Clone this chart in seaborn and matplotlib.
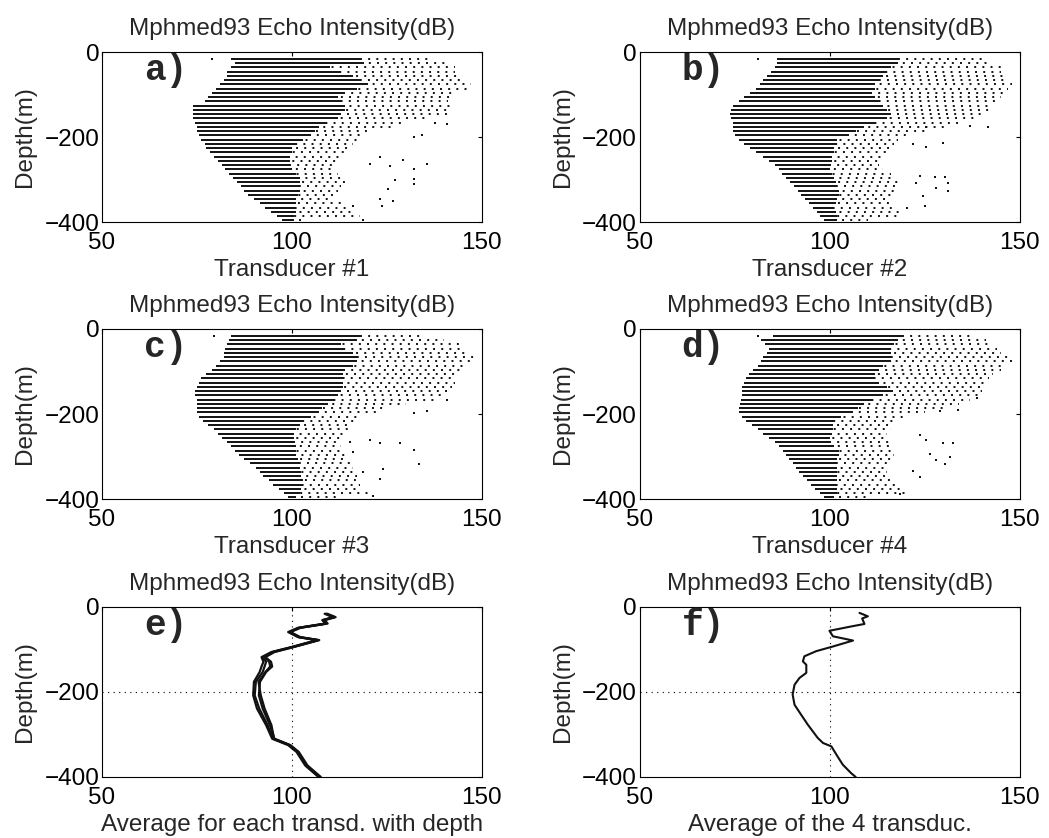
import matplotlib
matplotlib.use("Agg")
import matplotlib.pyplot as plt
import seaborn as sns
import pandas as pd

# depth of each echo bin (m)
row_depth = [-16, -26, -36, -46, -56, -66, -76, -86, -96, -106, -116, -126, -136,
             -146, -156, -166, -176, -186, -196, -206, -216, -226, -236, -246, -256,
             -266, -276, -286, -296, -306, -316, -326, -336, -346, -356, -366, -376,
             -386, -396]

# per bin: start of echoes, end of the dense part, end of the sparse part (dB)
a_left = [84, 85, 84, 83, 83, 82, 81, 80, 79, 78, 77, 74, 74, 74, 74, 74.5, 75, 75, 75.5,
          76, 77, 77.5, 78.5, 79.5, 80.5, 81.5, 82.5, 83.5, 84.5, 85.5, 86.5, 87.5, 88.5,
          90, 91.5, 93, 94.5, 96, 97.5]
a_dense = [118, 119, 110, 113, 116, 118, 120, 117, 114, 112, 113, 114, 114, 113, 112, 109,
           107, 106, 105, 103, 101, 100, 100, 99.5, 99.5, 99.5, 100, 101, 102, 102, 102,
           102, 101.5, 101, 101, 101, 101, 100.5, 100.5]
a_sparse = [137, 141, 143, 143, 144, 145, 147, 146, 143, 142, 141, 142, 142, 141, 135, 130,
            126, 121, 118, 117, 116, 115, 114, 113, 112, 111, 111, 112, 113, 114, 113, 112,
            111, 110, 113, 115, 116, 118, 104]

b_left = [86, 86, 85.5, 84.5, 83.5, 82.5, 81.5, 80.5, 79, 77.5, 76, 74.5, 74, 73.7, 74,
          74.5, 74.6, 74.6, 75, 76, 77.5, 79, 80.5, 82.5, 84, 85.5, 86.5, 87.5, 88.5, 89.5,
          90.5, 91.5, 92.5, 93.5, 94.5, 95.5, 96.5, 97.5, 98.5]
b_dense = [118, 118, 116, 115, 114, 113, 112, 112, 111, 112, 113, 114, 115, 116, 115, 112,
           109, 107, 105, 102, 101.5, 101, 101, 100.5, 100.5, 100, 100, 100.5, 101, 101.5,
           102, 102.5, 102.5, 102, 101.5, 101, 101.5, 102, 102]
b_sparse = [140, 142, 145, 145, 146, 147, 148, 147, 146, 145, 144, 143, 142, 141, 138, 134,
            130, 125, 121, 118, 117, 116, 115, 114, 113, 113, 114, 116, 117, 118, 118, 117,
            116, 116, 117, 118, 119, 118, 110]

c_left = [84, 83.5, 83, 82.5, 82, 82, 81, 80, 79, 77.5, 76, 75.5, 75, 74.5, 74.5, 75, 75,
          75, 75, 75.5, 76.5, 78, 79.5, 80.5, 81.5, 83, 84, 85, 86, 87.5, 89, 90.5, 91.5,
          92.5, 94, 95, 96.5, 98, 99]
c_dense = [118, 117, 113, 114, 116, 117, 117, 116, 114, 113.5, 113.5, 113.5, 113.5, 113,
           112, 111, 109.5, 108, 107, 105, 103, 102, 101, 100.5, 100.5, 100.5, 101, 101,
           101, 101.5, 102, 102, 102.5, 102.5, 103, 103, 102.5, 102, 101]
c_sparse = [135, 140, 144, 145, 146, 148, 147, 146, 145, 144, 143, 143, 142, 141, 140, 138,
            130, 125, 122, 118, 117, 116, 115, 114, 114, 113, 113, 114, 115, 115, 116, 116,
            117, 117, 117, 118, 118, 121, 112]

d_left = [85, 82, 83, 84, 83.5, 82.5, 82, 81, 79.7, 78.8, 78, 77.5, 77, 77, 76.8, 76.6,
          76.4, 76.2, 76.2, 77, 78, 79.5, 81, 82.5, 84, 85.5, 86.5, 87.6, 88.5, 89.3, 90.2,
          91, 92, 92.9, 94, 95, 96, 97.5, 98.5]
d_dense = [119, 118, 117, 116, 116, 116, 116, 114, 113, 112, 111.5, 113, 115, 116.5, 114,
           111, 109, 107.5, 106, 103, 101, 100.8, 100.8, 100.5, 100, 100, 101, 102.5, 102.5,
           102, 102, 102, 102, 102, 102, 102, 102, 102, 101]
d_sparse = [138, 141, 143, 144, 145, 147, 148, 146, 145, 143, 142, 141, 140.5, 140, 139,
            137, 134, 130, 125, 120, 118, 117, 116, 115, 115, 116, 117, 117, 117, 116, 116,
            115, 115, 116, 117, 118, 119, 120, 110]

# isolated echoes away from the main cloud
a_dots_x = [79, 134.2, 132, 120.6, 123.2, 125.8, 129.3, 132, 135.5, 132, 127.2, 125.4, 123.2,
            123.6, 126.7, 132, 118.8, 116.2, 140.8, 137.7]
a_dots_y = [-16, -196, -200, -263, -247, -267, -255, -275, -263, -311, -302, -322, -346,
            -362, -350, -299, -394, -362, -170, -166]
b_dots_x = [81, 127.6, 130.3, 131.1, 131.1, 128, 123.7, 122.8, 125.4, 129.8, 136.8, 141.7,
            124.6, 125, 120.2, 121.9, 125.4]
b_dots_y = [-16, -295, -295, -307, -327, -319, -291, -307, -177, -213, -173, -176, -339,
            -362, -366, -217, -224]
c_dots_x = [79.5, 132, 133.4, 128.5, 120.6, 123.2, 124, 123.2, 118.8, 135.5, 132, 140.8,
            115.3, 121.4, 116.2]
c_dots_y = [-16, -285, -317, -269, -261, -269, -329, -352, -337, -194, -198, -166, -265,
            -392, -289]
d_dots_x = [81, 129.8, 132.4, 131.6, 130.2, 128, 126.3, 123.6, 125.4, 123.6, 121.9, 118.4,
            133.7, 128.9, 138.6]
d_dots_y = [-16, -269, -269, -301, -317, -309, -293, -250, -261, -349, -333, -388, -190,
            -194, -162]

# mean profiles
e_depth = [-16, -24, -31, -39, -49, -59, -71, -78, -94, -106, -118, -129, -140, -153, -176,
           -208, -239, -278, -310, -325, -341, -373, -400]
e_t1 = [108.6, 110.8, 108.0, 108.8, 101.6, 99.0, 101.6, 106.5, 100.0, 94.6, 92.0, 92.5,
        92.0, 91.5, 90.0, 89.8, 90.8, 93.2, 94.8, 99.0, 101.2, 103.5, 107.0]
e_t2 = [108.9, 111.1, 108.1, 109.0, 101.9, 99.3, 101.9, 106.8, 100.2, 94.9, 92.3, 93.2,
        92.8, 92.3, 90.5, 90.2, 91.4, 93.6, 95.0, 99.3, 101.5, 103.7, 107.2]
e_t3 = [109.3, 111.5, 108.6, 109.4, 102.3, 99.6, 102.2, 107.2, 100.6, 95.4, 93.0, 94.5,
        94.8, 93.2, 91.6, 91.3, 92.3, 94.2, 95.4, 99.6, 101.8, 104.1, 107.6]
e_t4 = [109.0, 111.2, 108.3, 109.1, 102.0, 99.4, 102.0, 107.0, 100.4, 95.2, 92.8, 94.0,
        94.3, 93.0, 91.2, 91.8, 92.8, 94.6, 95.3, 99.4, 101.6, 103.9, 107.4]

f_depth = [-14, -22, -27, -40, -45, -56, -69, -79, -93, -104, -116, -128, -136, -155, -167,
           -183, -206, -230, -253, -277, -308, -320, -328, -347, -371, -391, -400]
f_mean = [107.8, 110.0, 108.5, 109.1, 106.1, 99.9, 100.8, 106.1, 100.8, 96.4, 93.3, 92.9,
          93.8, 93.8, 92.0, 90.7, 90.2, 90.7, 92.4, 94.2, 96.8, 98.2, 100.4, 101.7, 103.4,
          105.6, 106.8]

titles = "Mphmed93 Echo Intensity(dB)"

sns.set_style("white")
plt.rcParams["font.family"] = ["Liberation Sans", "DejaVu Sans"]
plt.rcParams["font.size"] = 17

fig = plt.figure(figsize=(10.49, 8.38), dpi=100)
lefts = [0.0972, 0.610]
bottoms = [0.735, 0.4045, 0.0728]
W, H = 0.3622, 0.2029
axes = [[fig.add_axes([l, b, W, H]) for l in lefts] for b in bottoms]

# stagger the dot pattern from row to row so the sparse echoes don't line up in columns
sparse_styles = [((k * 1.7) % 4.2, (1, 3.2)) for k in range(len(row_depth))]


def style_axis(ax, letter, xlabel):
    ax.set_xlim(50, 150)
    ax.set_ylim(-400, 0)
    ax.set_xticks([50, 100, 150])
    ax.set_yticks([-400, -200, 0])
    ax.tick_params(direction="in", length=3, width=0.8, top=True, right=True,
                   labelsize=17.5, colors="black")
    ax.tick_params(axis="x", pad=7)
    ax.tick_params(axis="y", pad=2)
    for s in ax.spines.values():
        s.set_linewidth(0.8)
        s.set_color("black")
    ax.set_title(titles, fontsize=17.5, pad=12)
    ax.set_xlabel(xlabel, fontsize=17.5, labelpad=4)
    ax.set_ylabel("Depth(m)", fontsize=17.5, labelpad=6)
    ax.text(0.11, 0.89, letter, transform=ax.transAxes, ha="left", va="center",
            fontsize=26, fontweight="bold", family="Liberation Mono")


def echo_panel(ax, left, dense, sparse, dx, dy):
    ax.hlines(row_depth, left, dense, colors="#111111", linewidth=1.4)
    ax.hlines(row_depth, dense, sparse, colors="#111111", linewidth=1.4,
              linestyles=sparse_styles)
    dots = pd.DataFrame({"x": dx, "y": dy})
    sns.scatterplot(data=dots, x="x", y="y", ax=ax, marker="s", s=3, color="#111111",
                    linewidth=0, legend=False)


echo_panel(axes[0][0], a_left, a_dense, a_sparse, a_dots_x, a_dots_y)
style_axis(axes[0][0], "a)", "Transducer #1")
echo_panel(axes[0][1], b_left, b_dense, b_sparse, b_dots_x, b_dots_y)
style_axis(axes[0][1], "b)", "Transducer #2")
echo_panel(axes[1][0], c_left, c_dense, c_sparse, c_dots_x, c_dots_y)
style_axis(axes[1][0], "c)", "Transducer #3")
echo_panel(axes[1][1], d_left, d_dense, d_sparse, d_dots_x, d_dots_y)
style_axis(axes[1][1], "d)", "Transducer #4")

# e) each transducer's mean profile
ax = axes[2][0]
prof = pd.concat([pd.DataFrame({"depth": e_depth, "echo": v, "tr": n})
                  for n, v in zip(["1", "2", "3", "4"], [e_t1, e_t2, e_t3, e_t4])])
sns.lineplot(data=prof, x="echo", y="depth", units="tr", estimator=None, sort=False,
             orient="y", ax=ax, color="#111111", linewidth=1.6, legend=False)
ax.axvline(100, color="black", linewidth=0.8, linestyle=(0, (1, 4)))
ax.axhline(-200, color="black", linewidth=0.8, linestyle=(0, (1, 4)))
style_axis(ax, "e)", "Average for each transd. with depth")

# f) mean of the four
ax = axes[2][1]
fm = pd.DataFrame({"depth": f_depth, "echo": f_mean})
sns.lineplot(data=fm, x="echo", y="depth", estimator=None, sort=False, orient="y",
             ax=ax, color="#111111", linewidth=1.5)
ax.axvline(100, color="black", linewidth=0.8, linestyle=(0, (1, 4)))
ax.axhline(-200, color="black", linewidth=0.8, linestyle=(0, (1, 4)))
style_axis(ax, "f)", "Average of the 4 transduc.")

fig.savefig("out.png", dpi=100)
